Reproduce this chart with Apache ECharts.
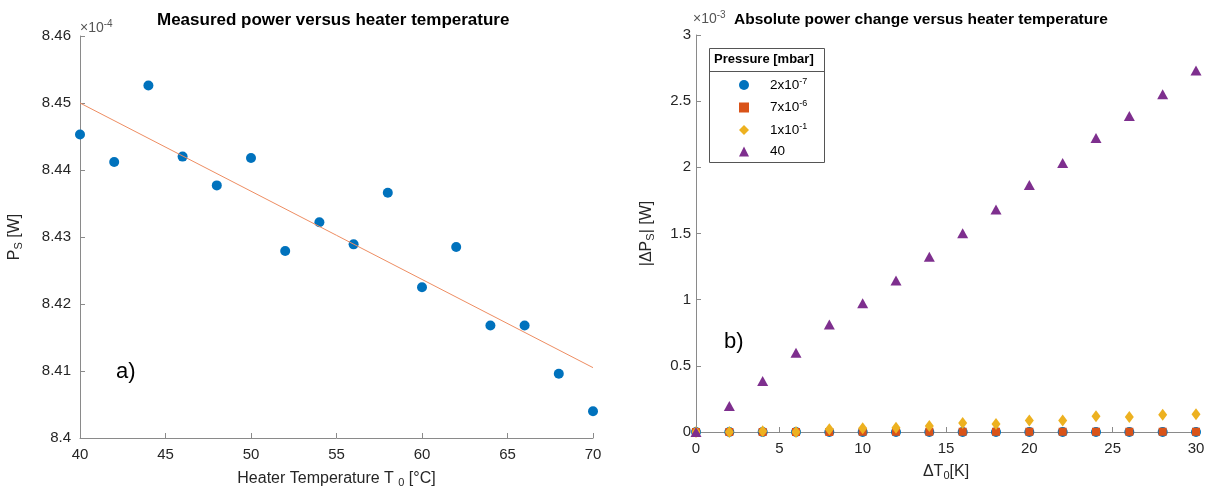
<!DOCTYPE html>
<html>
<head>
<meta charset="utf-8">
<script src="https://cdn.jsdelivr.net/npm/echarts@6/dist/echarts.min.js"></script>
<style>
  html, body { margin: 0; padding: 0; background: #fff; }
  #chart { width: 1210px; height: 488px; }
</style>
</head>
<body>
<div id="chart"></div>
<script>
// panel a) heater temperature [°C] and measured power [x1e-4 W]
const heaterTemp = [40, 42, 44, 46, 48, 50, 52, 54, 56, 58, 60, 62, 64, 66, 68, 70];
const measuredPower = [8.4453, 8.4412, 8.4526, 8.4420, 8.4377, 8.4418, 8.4279, 8.4322,
                       8.4289, 8.4366, 8.4225, 8.4285, 8.4168, 8.4168, 8.4096, 8.4040];
const fitTemp = [40, 70];
const fitPower = [8.4500, 8.4105];

// panel b) delta T [K] and |dP| [x1e-3 W] per pressure
const deltaT = [0, 2, 4, 6, 8, 10, 12, 14, 16, 18, 20, 22, 24, 26, 28, 30];
const dp_2e7 = [0, 0, 0, 0, 0, 0, 0, 0, 0, 0, 0, 0, 0, 0, 0, 0];
const dp_7e6 = [0, 0, 0, 0, 0, 0.002, 0.002, 0.002, 0.002, 0.002, 0.002, 0.002, 0.002, 0.002, 0.002, 0.002];
const dp_1e1 = [0, 0, 0.005, 0, 0.02, 0.028, 0.033, 0.045, 0.068, 0.06, 0.086, 0.086, 0.119, 0.113, 0.131, 0.134];
const dp_40 = [0, 0.197, 0.386, 0.598, 0.812, 0.973, 1.145, 1.324, 1.501, 1.682, 1.866, 2.033, 2.222, 2.388, 2.552, 2.731];
const pressureNames = ['2x10^-7', '7x10^-6', '1x10^-1', '40'];

const FONT = 'Liberation Sans, Arial, Helvetica, sans-serif';
const AXIS_COL = '#8a8a8a';
const TXT_COL = '#262626';

let zip = (xs, ys) => xs.map((x, i) => [x, ys[i]]);

let axisBase = {
    type: 'value',
    splitLine: { show: false },
    axisLine: { show: true, onZero: false, lineStyle: { color: AXIS_COL, width: 1 } },
    axisTick: { show: true, inside: true, length: 5, lineStyle: { color: AXIS_COL } },
    axisLabel: { color: TXT_COL, fontSize: 15, fontFamily: FONT },
    nameTextStyle: {
        color: TXT_COL, fontSize: 16, fontFamily: FONT,
        rich: { sub: { fontSize: 11, padding: [8, 0, 0, 0], color: TXT_COL, fontFamily: FONT } }
    }
};

let chart = echarts.init(document.getElementById('chart'));

let option = {
    animation: false,
    backgroundColor: '#fff',
    textStyle: { fontFamily: FONT },
    grid: [
        { left: 80, top: 36, width: 513, height: 402, outerBoundsMode: 'none', containLabel: false },
        { left: 696, top: 35, width: 500, height: 397, outerBoundsMode: 'none', containLabel: false }
    ],
    xAxis: [
        Object.assign({}, axisBase, {
            gridIndex: 0, min: 40, max: 70, interval: 5,
            axisLabel: Object.assign({}, axisBase.axisLabel, { margin: 9 }),
            name: 'Heater Temperature T {sub|0} [°C]', nameLocation: 'middle', nameGap: 31
        }),
        Object.assign({}, axisBase, {
            gridIndex: 1, min: 0, max: 30, interval: 5,
            axisLabel: Object.assign({}, axisBase.axisLabel, { margin: 9 }),
            name: 'ΔT{sub|0}[K]', nameLocation: 'middle', nameGap: 30
        })
    ],
    yAxis: [
        Object.assign({}, axisBase, {
            gridIndex: 0, min: 8.4, max: 8.46, interval: 0.01,
            axisLabel: Object.assign({}, axisBase.axisLabel, {
                margin: 9,
                formatter: (v) => String(parseFloat(v.toFixed(2)))
            }),
            name: 'P{sub|S} [W]', nameLocation: 'middle', nameGap: 56
        }),
        Object.assign({}, axisBase, {
            gridIndex: 1, min: 0, max: 3, interval: 0.5,
            axisLabel: Object.assign({}, axisBase.axisLabel, {
                margin: 5,
                formatter: (v) => String(parseFloat(v.toFixed(1)))
            }),
            name: '|ΔP{sub|S}| [W]', nameLocation: 'middle', nameGap: 40
        })
    ],
    legend: {
        left: 739, top: 77, orient: 'vertical', padding: 0,
        itemWidth: 10, itemHeight: 10, itemGap: 7.5,
        data: pressureNames,
        formatter: (n) => '{pad| }' + n.replace(/\^(-?\d+)/, '{sup|$1}'),
        textStyle: {
            color: '#000', fontSize: 13.5, fontFamily: FONT,
            rich: {
                pad: { width: 16 },
                sup: { fontSize: 9, padding: [0, 0, 7, 0], color: '#000', fontFamily: FONT }
            }
        }
    },
    series: [
        {
            name: 'measured', type: 'scatter', xAxisIndex: 0, yAxisIndex: 0,
            data: zip(heaterTemp, measuredPower),
            symbol: 'circle', symbolSize: 10,
            itemStyle: { color: '#0072BD', opacity: 1 }
        },
        {
            name: 'fit', type: 'line', xAxisIndex: 0, yAxisIndex: 0,
            data: zip(fitTemp, fitPower),
            symbol: 'none',
            lineStyle: { color: '#EE8D62', width: 1 }
        },
        {
            name: pressureNames[0], type: 'scatter', xAxisIndex: 1, yAxisIndex: 1,
            data: zip(deltaT, dp_2e7), symbol: 'circle', symbolSize: 10,
            itemStyle: { color: '#0072BD', opacity: 1 }
        },
        {
            name: pressureNames[1], type: 'scatter', xAxisIndex: 1, yAxisIndex: 1,
            data: zip(deltaT, dp_7e6), symbol: 'rect', symbolSize: 8,
            itemStyle: { color: '#D95319', opacity: 1 }
        },
        {
            name: pressureNames[2], type: 'scatter', xAxisIndex: 1, yAxisIndex: 1,
            data: zip(deltaT, dp_1e1), symbol: 'diamond', symbolSize: [9, 12],
            itemStyle: { color: '#EDB120', opacity: 1 }
        },
        {
            name: pressureNames[3], type: 'scatter', xAxisIndex: 1, yAxisIndex: 1,
            data: zip(deltaT, dp_40), symbol: 'triangle', symbolSize: [11, 10],
            itemStyle: { color: '#7E2F8E', opacity: 1 }
        }
    ],
    graphic: [
        {
            type: 'text', left: 157, top: 12,
            style: { text: 'Measured power versus heater temperature', fill: '#000', font: 'bold 17px ' + FONT }
        },
        {
            type: 'text', left: 734, top: 12,
            style: { text: 'Absolute power change versus heater temperature', fill: '#000', font: 'bold 15.5px ' + FONT }
        },
        {
            type: 'text', left: 80, top: 19,
            style: {
                text: '×10{sup|-4}', fill: '#555', font: '14px ' + FONT,
                rich: { sup: { fontSize: 10, padding: [0, 0, 8, 0], fill: '#555', fontFamily: FONT } }
            }
        },
        {
            type: 'text', left: 693, top: 10,
            style: {
                text: '×10{sup|-3}', fill: '#555', font: '14px ' + FONT,
                rich: { sup: { fontSize: 10, padding: [0, 0, 8, 0], fill: '#555', fontFamily: FONT } }
            }
        },
        {
            type: 'text', left: 116, top: 361,
            style: { text: 'a)', fill: '#000', font: '22px ' + FONT }
        },
        {
            type: 'text', left: 724, top: 331,
            style: { text: 'b)', fill: '#000', font: '22px ' + FONT }
        },
        {
            type: 'rect', left: 709, top: 48,
            shape: { width: 115, height: 114 },
            style: { fill: '#fff', stroke: '#555', lineWidth: 1 },
            z: -1
        },
        {
            type: 'line',
            shape: { x1: 709, y1: 71.5, x2: 824, y2: 71.5 },
            style: { stroke: '#555', lineWidth: 1 }
        },
        {
            type: 'text', left: 714, top: 53,
            style: { text: 'Pressure [mbar]', fill: '#000', font: 'bold 13px ' + FONT }
        }
    ]
};

chart.setOption(option);
</script>
</body>
</html>
